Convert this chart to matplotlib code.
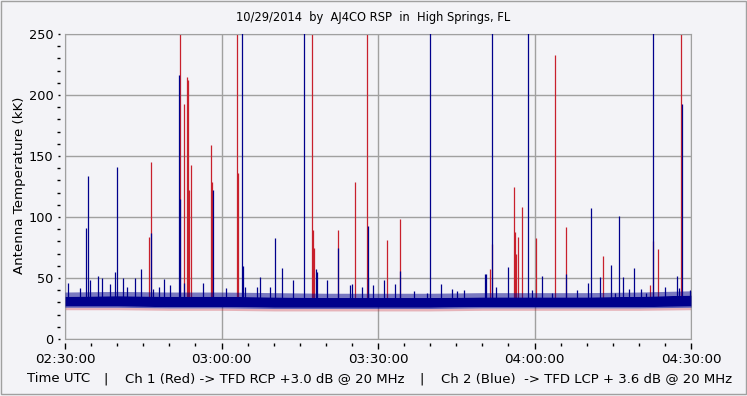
import matplotlib
matplotlib.use("Agg")
import matplotlib.pyplot as plt
from matplotlib.patches import Rectangle

# minutes after 02:30:00 UTC, antenna temperature in kK
red_t = [16.04, 16.39, 21.99, 22.81, 23.39, 23.58, 23.77, 24.15, 28.08, 28.27,
         32.88, 33.07, 47.44, 47.54, 47.73, 52.33, 55.65, 57.95, 61.78, 64.28,
         81.53, 81.85, 86.13, 86.26, 86.45, 86.84, 87.60, 90.29, 93.99, 96.09,
         103.13, 112.1, 112.81, 113.58, 118.14]
red_v = [84, 145, 260, 193, 215, 212, 122, 143, 159, 129,
         260, 136, 260, 89, 75, 89, 129, 260, 81, 98,
         57, 78, 125, 88, 70, 84, 108, 83, 233, 92,
         68, 44, 80, 74, 260]

blue_t = [4.08, 4.47, 10.03, 16.49, 21.91, 22.04, 28.31, 33.99, 34.12, 37.38,
          40.35, 41.60, 45.87, 48.11, 50.22, 52.39, 57.99, 58.08, 64.31, 70.02,
          72.08, 80.51, 81.91, 84.92, 88.81, 91.44, 96.13, 100.89, 104.66, 106.25,
          106.96, 109.07, 112.77, 117.32, 118.22]
blue_v = [91, 134, 141, 87, 216, 115, 122, 260, 60, 51,
          83, 58, 260, 57, 48, 75, 93, 50, 56, 260,
          45, 53, 260, 59, 260, 52, 53, 107, 61, 101,
          51, 58, 260, 52, 193]

# small blips riding on the baseline
small_t = [0.58, 2.88, 4.79, 6.33, 7.09, 8.63, 9.58, 11.12, 11.88, 13.42,
           14.57, 16.87, 18.02, 18.98, 20.13, 22.81, 26.45, 30.86, 34.50, 36.80,
           39.30, 43.71, 48.31, 54.63, 55.02, 56.93, 59.04, 61.15, 63.26, 66.90,
           69.39, 74.19, 75.14, 76.49, 80.70, 82.62, 89.52, 93.35, 98.15, 100.26,
           102.56, 105.43, 108.11, 110.41, 111.37, 115.02, 117.70, 119.81]
small_v = [46, 42, 48, 52, 50, 45, 55, 50, 43, 50,
           57, 41, 43, 49, 44, 46, 46, 42, 43, 43,
           43, 48, 55, 44, 45, 43, 44, 48, 45, 39,
           38, 41, 39, 40, 53, 43, 40, 38, 40, 46,
           51, 38, 41, 41, 38, 43, 42, 40]

# baseline envelope every 10 minutes
base_t = [0, 10, 20, 30, 40, 50, 60, 70, 80, 90, 100, 110, 120]
blue_lo = [26, 26, 25.5, 25.5, 25, 25, 25, 25, 25.5, 25.5, 25.5, 25.5, 26]
blue_hi = [36, 36.5, 36, 36, 35.5, 35, 35, 35, 35.5, 35.5, 35.5, 36, 37]
red_lo = [24, 24, 23.5, 23.5, 23, 23, 23, 23, 23.5, 23.5, 23.5, 23.5, 24]

major = [0, 30, 60, 90, 120]
major_lbl = ["02:30:00", "03:00:00", "03:30:00", "04:00:00", "04:30:00"]

RED = "#C8202C"
BLUE = "#00008C"
BG = "#F3F3F7"
GRID = "#A0A0A0"

fig = plt.figure(figsize=(7.47, 3.96), dpi=100, facecolor=BG)
ax = fig.add_axes([65 / 747, 57 / 396, 626 / 747, 305 / 396], facecolor=BG)

ax.vlines(red_t, 30, red_v, color=RED, lw=0.9, zorder=2)
ax.fill_between(base_t, red_lo, blue_lo, color=RED, alpha=0.3, lw=0, zorder=2)
ax.fill_between(base_t, [v + 1 for v in blue_lo], [h - 1 for h in blue_hi],
                color=BLUE, lw=0, zorder=3)
ax.fill_between(base_t, blue_lo, [v + 1 for v in blue_lo], color=BLUE, alpha=0.6, lw=0, zorder=3)
ax.fill_between(base_t, [h - 1 for h in blue_hi], [h + 2.5 for h in blue_hi],
                color=BLUE, alpha=0.5, lw=0, zorder=3)
ax.vlines(blue_t, 30, blue_v, color=BLUE, lw=0.9, zorder=4)
ax.vlines(small_t, 30, small_v, color=BLUE, lw=0.9, zorder=4)

ax.set_xlim(0, 120)
ax.set_ylim(0, 250)
ax.set_xticks(major)
ax.set_yticks(range(0, 251, 50))
ax.grid(True, color=GRID, lw=1)
ax.set_axisbelow(True)
ax.tick_params(bottom=False, left=False, labelbottom=False, labelleft=False)
for s in ax.spines.values():
    s.set_color(GRID)

# ticks sit a little away from the frame
sx = ax.secondary_xaxis(-4 / 305)
sx.set_xticks(major, major_lbl)
sx.set_xticks(range(0, 121, 5), minor=True)
sx.spines["bottom"].set_visible(False)
sx.tick_params(which="major", length=4.3, width=1, pad=3.0, labelsize=9.7)
sx.tick_params(which="minor", length=2.2, width=1)

sy = ax.secondary_yaxis(-5 / 626)
sy.set_yticks(range(0, 251, 50))
sy.set_yticks(range(0, 251, 10), minor=True)
sy.spines["left"].set_visible(False)
sy.tick_params(which="major", length=1.2, width=1, pad=3.5, labelsize=9.3)
sy.tick_params(which="minor", length=2.2, width=1)

fig.text(20 / 747, 1 - 185 / 396, "Antenna Temperature (kK)", rotation=90,
         ha="center", va="center", fontsize=9.6)
fig.text(373 / 747, 1 - 18 / 396, "10/29/2014  by  AJ4CO RSP  in  High Springs, FL",
         ha="center", va="center", fontsize=8.3)

yb = 1 - 379 / 396
fs = 9.5
fig.text(27 / 747, yb, "Time UTC", ha="left", va="center", fontsize=fs)
fig.text(106 / 747, yb, "|", ha="center", va="center", fontsize=fs)
fig.text(125 / 747, yb, "Ch 1 (Red) -> TFD RCP +3.0 dB @ 20 MHz", ha="left", va="center", fontsize=fs)
fig.text(422 / 747, yb, "|", ha="center", va="center", fontsize=fs)
fig.text(441 / 747, yb, "Ch 2 (Blue)  -> TFD LCP + 3.6 dB @ 20 MHz", ha="left", va="center", fontsize=fs)

fig.patches.append(Rectangle((0.5 / 747, 2 / 396), 745 / 747, 393 / 396, transform=fig.transFigure,
                             fill=False, edgecolor=GRID, lw=1))

fig.savefig("out.png", dpi=100, facecolor=BG)
